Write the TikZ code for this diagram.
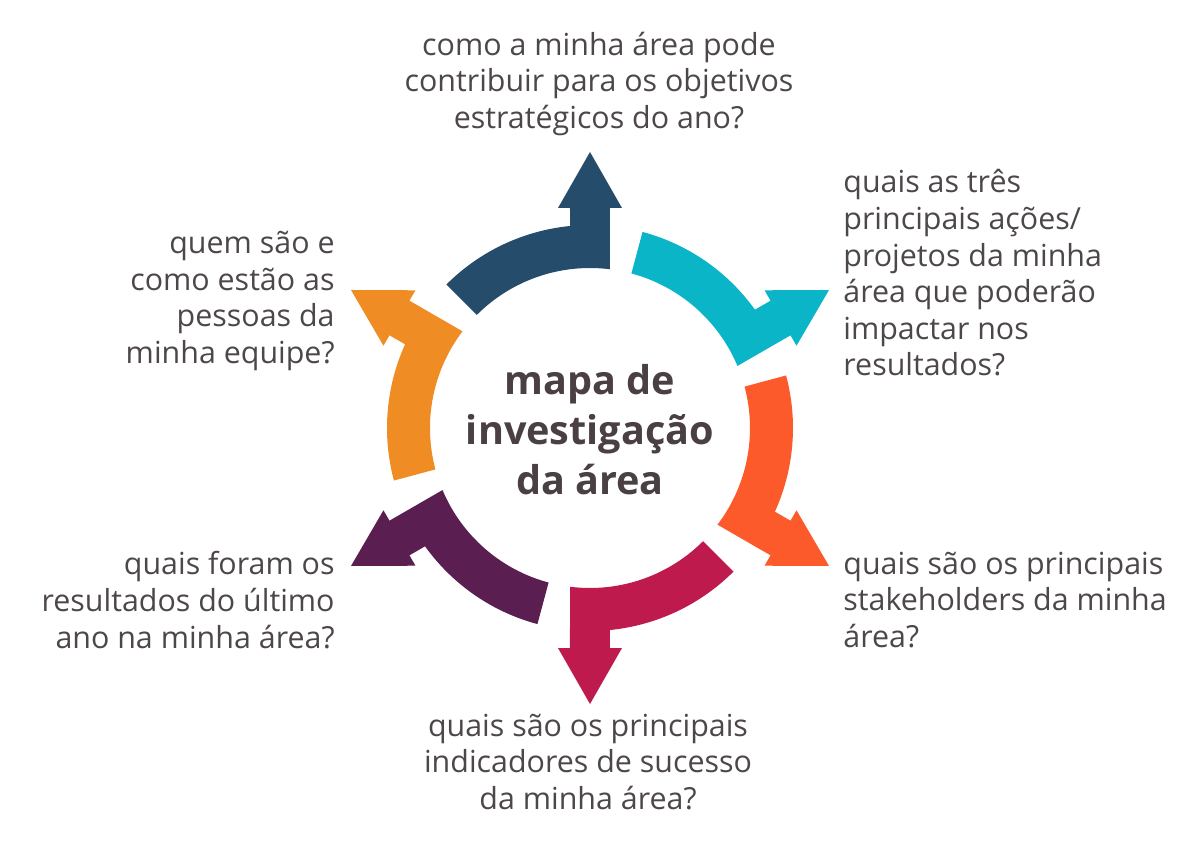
\documentclass[tikz,border=0pt]{standalone}
\usepackage{fontspec}
\setmainfont{Open Sans}
\usetikzlibrary{positioning}
\definecolor{mapblue}{HTML}{264C6C}
\definecolor{mapcyan}{HTML}{0BB5C8}
\definecolor{mapred}{HTML}{FC5A2A}
\definecolor{mapmagenta}{HTML}{BE1A4E}
\definecolor{mappurple}{HTML}{5B1E51}
\definecolor{maporange}{HTML}{F08C24}
\definecolor{maptext}{HTML}{4D4749}
\definecolor{maptitle}{HTML}{4A4043}
\tikzset{
  question/.style={font=\fontsize{15.2}{18.3}\selectfont, text=maptext, inner sep=0pt},
  maptitle/.style={font=\fontsize{19.8}{25}\selectfont\bfseries, text=maptitle, align=center, inner sep=0pt}
}

\begin{document}
\begin{tikzpicture}[x=0.5pt,y=0.5pt]
  \useasboundingbox (-590,-429) rectangle (610,428);
  % six curved arrows round the centre
  \foreach \dir/\col in {90/mapblue,30/mapcyan,-30/mapred,-90/mapmagenta,-150/mappurple,150/maporange}
    \fill[\col, rotate=\dir-90] (135:160) -- (135:203)
      arc[start angle=135, end angle=95.65, radius=203]
      -- (-20,220) -- (-32,220) -- (0,276) -- (32,220) -- (20,220)
      -- (82.82:160) arc[start angle=82.82, end angle=135, radius=160] -- cycle;
  \node[maptitle] (title) at (0,-2) {mapa de\\investigação\\da área};
  \node[question, align=center] (qtop) at (9,344) {como a minha área pode\\contribuir para os objetivos\\estratégicos do ano?};
  \node[question, align=left, anchor=west] (qrighttop) at (253,155) {quais as três\\principais ações/\\projetos da minha\\área que poderão\\impactar nos\\resultados?};
  \node[question, align=left, anchor=west] (qrightbot) at (253,-172) {quais são os principais\\stakeholders da minha\\área?};
  \node[question, align=center] (qbot) at (-2,-334) {quais são os principais\\indicadores de sucesso\\da minha área?};
  \node[question, align=right, anchor=east] (qleftbot) at (-255,-172) {quais foram os\\resultados do último\\ano na minha área?};
  \node[question, align=right, anchor=east] (qlefttop) at (-255,127) {quem são e\\como estão as\\pessoas da\\minha equipe?};
\end{tikzpicture}
\end{document}
